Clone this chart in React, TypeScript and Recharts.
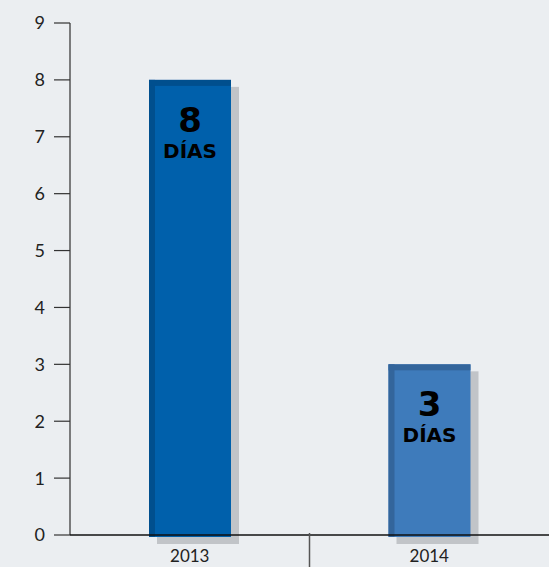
import { BarChart, Bar, XAxis, YAxis, Cell, LabelList } from "recharts";

const years = ["2013", "2014"];
const days = [8, 3];
const yTicks = [0, 1, 2, 3, 4, 5, 6, 7, 8, 9];

const BAR_COLORS = [
  { main: "#0060ab", edge: "#004f8e" },
  { main: "#3e7bbb", edge: "#33659b" },
];

const W = 549;
const H = 567;
const MARGIN = { top: 23, right: 0, left: 0, bottom: 0 };
const Y_AXIS_W = 70;
const PLOT_W = W - Y_AXIS_W - MARGIN.left - MARGIN.right;

const data = years.map((year, i) => ({ year, days: days[i], idx: i }));

const FONT = "Lato, 'Open Sans', sans-serif";
const LABEL_FONT = "'DejaVu Sans', sans-serif";

function BevelBar(props: any) {
  const { x, y, width, height, payload } = props;
  const c = BAR_COLORS[payload.idx];
  const edge = 6;
  return (
    <g>
      <rect x={x + 8} y={y + 7} width={width} height={height + 2} fill="#c1c4c8" />
      <rect x={x} y={y} width={width} height={height + 2} fill={c.main} />
      <rect x={x} y={y} width={edge} height={height + 2} fill={c.edge} />
      <rect x={x} y={y} width={width} height={edge} fill={c.edge} />
    </g>
  );
}

function DaysLabel(props: any) {
  const { x, y, width, value } = props;
  const cx = x + width / 2;
  return (
    <g fontFamily={LABEL_FONT} fontWeight={700} fill="#000" textAnchor="middle">
      <text x={cx} y={y + 52} fontSize={34}>
        {value}
      </text>
      <text x={cx} y={y + 78} fontSize={20}>
        DÍAS
      </text>
    </g>
  );
}

function YearTick(props: any) {
  const { x, y, payload, index } = props;
  return (
    <g>
      <text x={x} y={y + 19} textAnchor="middle" fontFamily={FONT} fontSize={17} fill="#222">
        {payload.value}
      </text>
      {index === 0 && (
        <line x1={x + PLOT_W / 4} y1={y - 10} x2={x + PLOT_W / 4} y2={y + 40} stroke="#555" strokeWidth={1.5} />
      )}
    </g>
  );
}

export default function App() {
  return (
    <div style={{ position: "absolute", left: 0, top: 0, width: W, height: H, background: "#ebeef1" }}>
      <BarChart width={W} height={H} data={data} margin={MARGIN}>
        <YAxis
          type="number"
          domain={[0, 9]}
          ticks={yTicks}
          interval={0}
          width={Y_AXIS_W}
          tickSize={16}
          tickMargin={9}
          axisLine={{ stroke: "#555", strokeWidth: 1.5 }}
          tickLine={{ stroke: "#333", strokeWidth: 1.2 }}
          tick={{ fontFamily: FONT, fontSize: 18, fill: "#222" }}
        />
        <XAxis
          dataKey="year"
          height={32}
          axisLine={{ stroke: "#111", strokeWidth: 1.5 }}
          tickLine={false}
          tick={<YearTick />}
          interval={0}
        />
        <Bar dataKey="days" barSize={82} shape={<BevelBar />} isAnimationActive={false}>
          {data.map((d, i) => (
            <Cell key={d.year} fill={BAR_COLORS[i].main} />
          ))}
          <LabelList dataKey="days" content={<DaysLabel />} />
        </Bar>
      </BarChart>
    </div>
  );
}
